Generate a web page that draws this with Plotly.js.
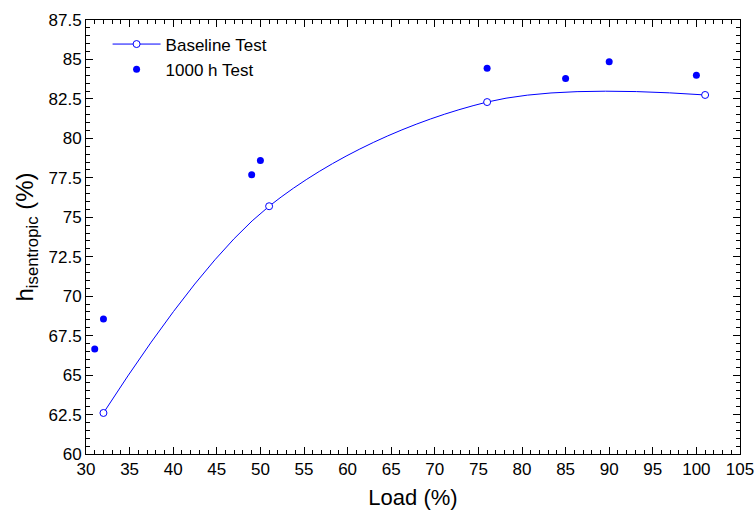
<!DOCTYPE html>
<html>
<head>
<meta charset="utf-8">
<script src="https://cdn.plot.ly/plotly-3.0.1.min.js"></script>
<style>html,body{margin:0;padding:0;background:#fff;}#chart{width:754px;height:510px;}</style>
</head>
<body>
<div id="chart"></div>
<script>
// Baseline Test
var baselineLoad = [32, 51, 76, 101];
var baselineEff = [62.6, 75.7, 82.3, 82.75];
// 1000 h Test
var testLoad = [31, 32, 49, 50, 76, 85, 90, 100];
var testEff = [66.65, 68.55, 77.7, 78.6, 84.45, 83.8, 84.85, 84.0];
// Axis ticks
var xTicks = [30, 35, 40, 45, 50, 55, 60, 65, 70, 75, 80, 85, 90, 95, 100, 105];
var yTicks = [60, 62.5, 65, 67.5, 70, 72.5, 75, 77.5, 80, 82.5, 85, 87.5];

var font = "Liberation Sans, Arial, sans-serif";
var blue = "#0000FF";

var traces = [
  {
    x: baselineLoad, y: baselineEff, name: "Baseline Test",
    type: "scatter", mode: "lines+markers",
    line: {color: blue, width: 1, shape: "spline", smoothing: 1.0},
    marker: {symbol: "circle", size: 7, color: "#FFFFFF", line: {color: blue, width: 1}}
  },
  {
    x: testLoad, y: testEff, name: "1000 h Test",
    type: "scatter", mode: "markers",
    marker: {symbol: "circle", size: 7, color: blue}
  }
];

var axisCommon = {
  showgrid: false, zeroline: false, showline: true, linecolor: "#000", linewidth: 1,
  ticks: "inside", ticklen: 7, tickcolor: "#000", tickwidth: 1, mirror: "allticks",
  tickfont: {family: font, size: 17, color: "#000"},
  ticklabeloverflow: "allow"
};

var layout = {
  width: 754, height: 510,
  margin: {l: 86, r: 14, t: 20, b: 56},
  paper_bgcolor: "#fff", plot_bgcolor: "#fff",
  font: {family: font, color: "#000"},
  showlegend: true,
  legend: {x: 0.033, y: 0.985, xanchor: "left", yanchor: "top", bgcolor: "rgba(0,0,0,0)",
           itemwidth: 48,
           font: {family: font, size: 17, color: "#000"}},
  xaxis: Object.assign({}, axisCommon, {
    range: [29.999, 105.001], tickvals: xTicks,
    minor: {dtick: 1, ticks: "inside", ticklen: 4, tickcolor: "#000", showgrid: false},
    title: {text: "Load (%)", font: {family: font, size: 22, color: "#000"}, standoff: 11}
  }),
  yaxis: Object.assign({}, axisCommon, {
    range: [60, 87.5], tickvals: yTicks,
    minor: {dtick: 0.5, ticks: "inside", ticklen: 4, tickcolor: "#000", showgrid: false},
    title: {text: "h<sub>isentropic</sub> (%)", font: {family: font, size: 24, color: "#000"}, standoff: 8}
  })
};

Plotly.newPlot("chart", traces, layout, {displayModeBar: false, staticPlot: true});
</script>
</body>
</html>
